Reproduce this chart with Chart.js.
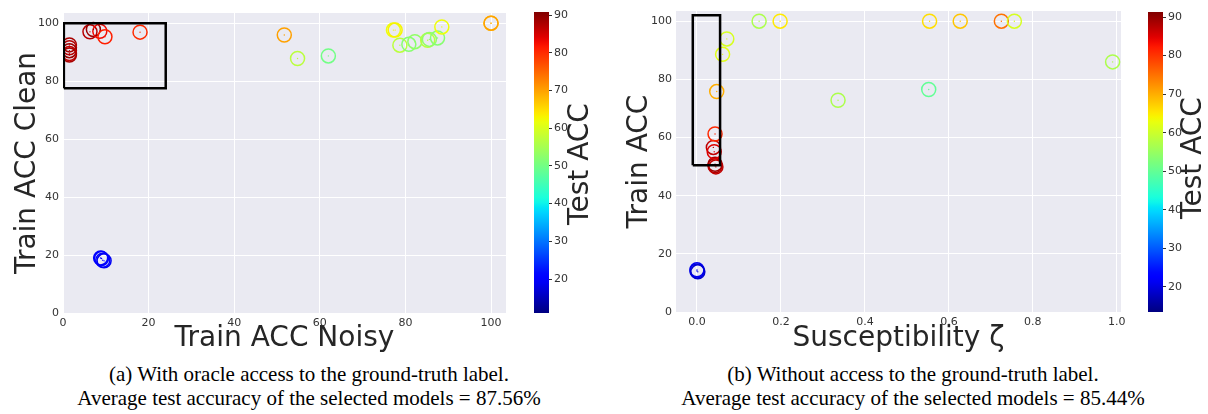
<!DOCTYPE html>
<html lang="en">
<head>
<meta charset="UTF-8">
<title>Model selection</title>
<script src="https://cdn.jsdelivr.net/npm/chart.js@4.4.0/dist/chart.umd.min.js"></script>
<style>
  body { margin:0; width:1208px; height:414px; background:#fff; position:relative; overflow:hidden; font-family:"DejaVu Sans", sans-serif; }
  .box { position:absolute; }
  .cbar-label { position:absolute; width:200px; height:34px; line-height:34px; margin-left:-100px; margin-top:-17px;
                text-align:center; font-size:28px; color:#262626; transform:rotate(-90deg); white-space:nowrap; }
  .cap { position:absolute; width:700px; margin-left:-350px; text-align:center; white-space:nowrap;
         font-family:"Liberation Serif", serif; font-size:21px; color:#000; line-height:24px; }
</style>
</head>
<body>

<div class="box" style="left:0;top:0;width:520px;height:360px"><canvas id="panelA"></canvas></div>
<div class="box" style="left:520px;top:0;width:60px;height:330px"><canvas id="cbarA"></canvas></div>
<div class="cbar-label" style="left:579px;top:164px">Test ACC</div>

<div class="box" style="left:610px;top:0;width:520px;height:360px"><canvas id="panelB"></canvas></div>
<div class="box" style="left:1134px;top:0;width:60px;height:330px"><canvas id="cbarB"></canvas></div>
<div class="cbar-label" style="left:1192px;top:158px">Test ACC</div>

<div class="cap" style="left:309px;top:362px">(a) With oracle access to the ground-truth label.</div>
<div class="cap" style="left:309px;top:386px">Average test accuracy of the selected models = 87.56%</div>
<div class="cap" style="left:913px;top:362px">(b) Without access to the ground-truth label.</div>
<div class="cap" style="left:913px;top:386px">Average test accuracy of the selected models = 85.44%</div>

<script>
// (a) with oracle access: train acc on noisy labels vs clean labels
var noisyA = [1.5, 1.5, 1.5, 1.5, 1.5, 6.3, 7.1, 8.6, 9.8, 18, 51.7, 54.8, 62, 77.2, 77.6, 78.7, 80.8, 82.2, 85.2, 85.6, 87.5, 88.5, 100, 100, 8.8, 9.0, 9.3, 9.6];
var cleanA = [92.5, 91.5, 90.5, 89.5, 89, 97, 97.8, 97.2, 95.3, 96.9, 95.9, 87.8, 88.7, 97.6, 97.6, 92.4, 92.7, 93.6, 94.1, 94.4, 94.9, 98.7, 100, 100, 19, 18.8, 18.2, 18];
var testA  = [88, 87, 89, 86, 88, 87, 89, 83, 81, 80, 70, 57, 50, 62, 63, 57, 52, 53, 57, 53, 52, 62, 67, 70, 20, 21, 20, 19];
var boxAx = [0.2, 24, 24, 0.2, 0.2];
var boxAy = [77.5, 77.5, 100, 100, 77.5];
var cbarRangeA = [11, 90.8];

// (b) without access: susceptibility vs train acc
var suscB  = [0.0, 0.0, 0.002, 0.043, 0.043, 0.045, 0.039, 0.041, 0.043, 0.047, 0.061, 0.071, 0.148, 0.198, 0.336, 0.552, 0.554, 0.627, 0.725, 0.756, 0.99];
var trainB = [14.1, 14.5, 13.8, 50.3, 50.8, 49.9, 56.6, 55.1, 61.2, 75.8, 88.6, 93.9, 100, 100, 72.8, 76.5, 100, 100, 100, 100, 86];
var testB  = [20, 21, 19, 88, 89, 87, 87, 85, 81, 70, 62, 61, 57, 65, 57, 50, 66, 68, 75, 61, 57];
var boxBx = [-0.01, 0.055, 0.055, -0.01, -0.01];
var boxBy = [50.5, 50.5, 102, 102, 50.5];
var cbarRangeB = [13.5, 91.3];

var cbarTicks = [20, 30, 40, 50, 60, 70, 80, 90];

// matplotlib jet
var JET_R = [[0,0],[0.35,0],[0.66,1],[0.89,1],[1,0.5]];
var JET_G = [[0,0],[0.125,0],[0.375,1],[0.64,1],[0.91,0],[1,0]];
var JET_B = [[0,0.5],[0.11,1],[0.34,1],[0.65,0],[1,0]];
function interp(pts, t){
    for (var i = 1; i < pts.length; i++) {
        if (t <= pts[i][0]) {
            var p = pts[i-1], q = pts[i];
            return p[1] + (q[1]-p[1]) * (t-p[0]) / (q[0]-p[0]);
        }
    }
    return pts[pts.length-1][1];
}
function jet(t){
    t = Math.max(0, Math.min(1, t));
    return 'rgb(' + Math.round(255*interp(JET_R,t)) + ',' + Math.round(255*interp(JET_G,t)) + ',' + Math.round(255*interp(JET_B,t)) + ')';
}
function colorsFor(vals, range){
    return vals.map(function(v){ return jet((v - range[0]) / (range[1] - range[0])); });
}
function toPoints(xs, ys){
    return xs.map(function(x, i){ return {x: x, y: ys[i]}; });
}

var bgPlugin = {
    id: 'bg',
    beforeDraw: function(chart){
        var a = chart.chartArea, c = chart.ctx;
        c.save();
        c.fillStyle = '#EAEAF2';
        c.fillRect(a.left, a.top, a.right - a.left, a.bottom - a.top);
        c.restore();
    }
};

var tickFont = {family: 'DejaVu Sans', size: 11};
var titleFont = {family: 'DejaVu Sans', size: 28};

function createPanel(id, xs, ys, tests, range, bx, by, opt){
    var cols = colorsFor(tests, range);
    var ctx = document.getElementById(id).getContext('2d');
    return new Chart(ctx, {
        type: 'scatter',
        data: {
            datasets: [
                { data: toPoints(bx, by), showLine: true, borderColor: '#000', borderWidth: 2.5,
                  pointRadius: 0, fill: false, order: 0 },
                { data: toPoints(xs, ys), pointRadius: 0.7, pointBackgroundColor: cols,
                  pointBorderWidth: 0, order: 1 },
                { data: toPoints(xs, ys), pointRadius: 7, pointBorderWidth: 1.5,
                  pointBorderColor: cols, pointBackgroundColor: 'rgba(0,0,0,0)', order: 2 }
            ]
        },
        options: {
            responsive: true,
            maintainAspectRatio: false,
            animation: false,
            layout: { padding: {top: opt.top, right: opt.right, left: 0, bottom: 0} },
            plugins: { legend: {display: false}, tooltip: {enabled: false} },
            scales: {
                x: {
                    type: 'linear', min: opt.xmin, max: opt.xmax,
                    grid: { color: '#ffffff', lineWidth: 1, drawTicks: false },
                    border: { display: false },
                    ticks: { stepSize: opt.xstep, includeBounds: false, color: '#333', font: tickFont, padding: 4,
                             maxRotation: 0, callback: opt.xfmt },
                    title: { display: true, text: opt.xtitle, color: '#262626', font: titleFont, padding: 4 },
                    afterFit: function(s){ s.height = opt.xh; }
                },
                y: {
                    type: 'linear', min: 0, max: 103.5,
                    grid: { color: '#ffffff', lineWidth: 1, drawTicks: false },
                    border: { display: false },
                    ticks: { stepSize: 20, includeBounds: false, color: '#333', font: tickFont, padding: 4 },
                    title: { display: true, text: opt.ytitle, color: '#262626', font: titleFont, padding: opt.ytpad },
                    afterFit: function(s){ s.width = opt.yw; }
                }
            }
        },
        plugins: [bgPlugin]
    });
}

function createColorbar(id, range, top, bottom){
    var ctx = document.getElementById(id).getContext('2d');
    return new Chart(ctx, {
        type: 'bar',
        data: {
            labels: ['cbar'],
            datasets: [{
                data: [range],
                barPercentage: 1, categoryPercentage: 1, borderWidth: 0,
                backgroundColor: function(c){
                    var a = c.chart.chartArea;
                    if (!a) return '#888';
                    var g = c.chart.ctx.createLinearGradient(0, a.bottom, 0, a.top);
                    for (var i = 0; i <= 60; i++) g.addColorStop(i/60, jet(i/60));
                    return g;
                }
            }]
        },
        options: {
            responsive: true,
            maintainAspectRatio: false,
            animation: false,
            layout: { padding: {top: top, left: 14, right: 0, bottom: bottom} },
            plugins: { legend: {display: false}, tooltip: {enabled: false} },
            scales: {
                x: { display: false },
                y: {
                    position: 'right', min: range[0], max: range[1],
                    grid: { drawOnChartArea: false, drawTicks: true, tickLength: 3, color: '#333' },
                    border: { display: false },
                    afterBuildTicks: function(s){ s.ticks = cbarTicks.map(function(v){ return {value: v}; }); },
                    ticks: { color: '#333', font: tickFont, padding: 2 },
                    afterFit: function(s){ s.width = 31; }
                }
            }
        }
    });
}

createPanel('panelA', noisyA, cleanA, testA, cbarRangeA, boxAx, boxAy, {
    xmin: 0, xmax: 103.5, xstep: 20, xtitle: 'Train ACC Noisy', ytitle: 'Train ACC Clean',
    top: 13, right: 14, xh: 47, yw: 63, ytpad: 11,
    xfmt: function(v){ return v; }
});
createPanel('panelB', suscB, trainB, testB, cbarRangeB, boxBx, boxBy, {
    xmin: -0.05, xmax: 1.01, xstep: 0.2, xtitle: 'Susceptibility \u03b6', ytitle: 'Train ACC',
    top: 11, right: 9, xh: 48, yw: 66, ytpad: 13,
    xfmt: function(v){ return (Math.abs(v) < 1e-9 ? 0 : v).toFixed(1); }
});
createColorbar('cbarA', cbarRangeA, 12, 17);
createColorbar('cbarB', cbarRangeB, 12, 18);
</script>
</body>
</html>
